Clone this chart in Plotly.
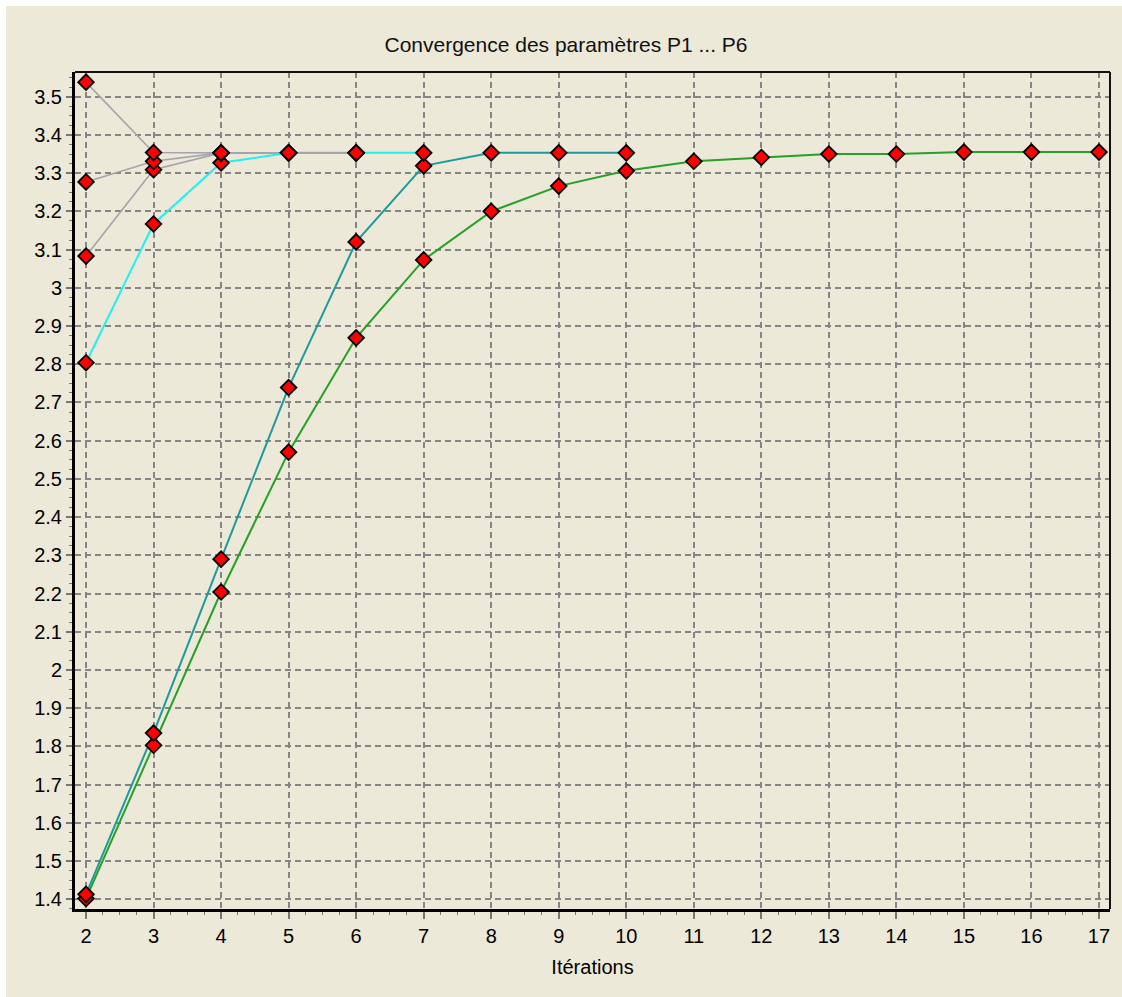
import plotly.graph_objects as go

# ---- data ----
iter_p1 = [2, 3, 4, 5, 6]
p1 = [3.538, 3.354, 3.353, 3.353, 3.353]
iter_p2 = [2, 3, 4, 5, 6]
p2 = [3.277, 3.331, 3.353, 3.353, 3.353]
iter_p3 = [2, 3, 4, 5, 6]
p3 = [3.083, 3.309, 3.353, 3.353, 3.353]
iter_p4 = [2, 3, 4, 5, 6, 7]
p4 = [2.804, 3.167, 3.327, 3.353, 3.353, 3.353]
iter_p5 = [2, 3, 4, 5, 6, 7, 8, 9, 10]
p5 = [1.413, 1.835, 2.290, 2.739, 3.120, 3.319, 3.353, 3.353, 3.353]
iter_p6 = [2, 3, 4, 5, 6, 7, 8, 9, 10, 11, 12, 13, 14, 15, 16, 17]
p6 = [1.402, 1.803, 2.204, 2.570, 2.869, 3.073, 3.200, 3.266, 3.306,
      3.331, 3.341, 3.350, 3.350, 3.355, 3.355, 3.355]

title_text = "Convergence des paramètres P1 ... P6"
x_title = "Itérations"

BG = "#ece9d8"
FONT = "Liberation Sans, Arial, sans-serif"

series = [
    (iter_p6, p6, "#26a026", 2.0),
    (iter_p5, p5, "#1f9a9c", 2.0),
    (iter_p4, p4, "#22f0f0", 2.0),
    (iter_p3, p3, "#a4a4ac", 1.6),
    (iter_p2, p2, "#a4a4ac", 1.6),
    (iter_p1, p1, "#a4a4ac", 1.6),
]

fig = go.Figure()
for xs, ys, col, w in series:
    fig.add_trace(go.Scatter(x=xs, y=ys, mode="lines",
                             line=dict(color=col, width=w),
                             showlegend=False, hoverinfo="skip"))
for xs, ys, col, w in series:
    fig.add_trace(go.Scatter(x=xs, y=ys, mode="markers",
                             marker=dict(symbol="diamond", size=12, color="#ff0000",
                                         line=dict(color="#000000", width=1.8)),
                             showlegend=False))

W, H = 1122, 997
L, R, T, B = 75, 12, 72, 88

grid = dict(showgrid=True, gridcolor="#858585", gridwidth=1.8, griddash="6px,4px")

fig.update_layout(
    width=W, height=H,
    margin=dict(l=L, r=R, t=T, b=B, pad=0),
    paper_bgcolor=BG, plot_bgcolor=BG,
    font=dict(family=FONT, size=20, color="#000000"),
    title=dict(text=title_text, xref="container", x=566 / W, xanchor="center",
               yref="container", y=1 - 45 / H, yanchor="middle",
               font=dict(family=FONT, size=21, color="#111111")),
    xaxis=dict(range=[1.837, 17.163], tickmode="linear", tick0=2, dtick=1,
               ticks="outside", ticklen=7, tickwidth=1.5, tickcolor="#777777",
               minor=dict(ticks="outside", ticklen=3, tickwidth=1.2, tickcolor="#777777",
                          dtick=0.25, tick0=2, showgrid=False),
               showline=True, linecolor="#000000", linewidth=3,
               zeroline=False, title=dict(text=x_title, standoff=14,
                                          font=dict(family=FONT, size=20)),
               tickfont=dict(family=FONT, size=20),
               **grid),
    yaxis=dict(range=[1.3746, 3.5646], tickmode="linear", tick0=1.4, dtick=0.1,
               ticks="outside", ticklen=6, tickwidth=1.5, tickcolor="#777777",
               minor=dict(ticks="outside", ticklen=3, tickwidth=1.2, tickcolor="#777777",
                          dtick=0.025, tick0=1.4, showgrid=False),
               showline=True, linecolor="#000000", linewidth=3,
               zeroline=False, tickfont=dict(family=FONT, size=20),
               **grid),
)

# thin top / right frame of the plot area
fig.add_shape(type="line", xref="paper", yref="paper", x0=0, x1=1, y0=1, y1=1,
              line=dict(color="#111111", width=2), layer="above")
fig.add_shape(type="line", xref="paper", yref="paper", x0=1, x1=1, y0=0, y1=1,
              line=dict(color="#111111", width=2), layer="above")

# white strips at top and left edges of the window
pw, ph = W - L - R, H - T - B
def px_x(p):
    return (p - L) / pw
def px_y(p):
    return (H - B - p) / ph
fig.add_shape(type="rect", xref="paper", yref="paper",
              x0=px_x(-2), x1=px_x(W + 2), y0=px_y(6), y1=px_y(-2),
              fillcolor="#ffffff", line=dict(width=0), layer="above")
fig.add_shape(type="rect", xref="paper", yref="paper",
              x0=px_x(-2), x1=px_x(6), y0=px_y(H + 2), y1=px_y(-2),
              fillcolor="#ffffff", line=dict(width=0), layer="above")

fig.write_html("out.html", config={"displayModeBar": False},
               post_script="document.body.style.margin='0';document.body.style.overflow='hidden';"
                           "document.body.style.background='" + BG + "';")
